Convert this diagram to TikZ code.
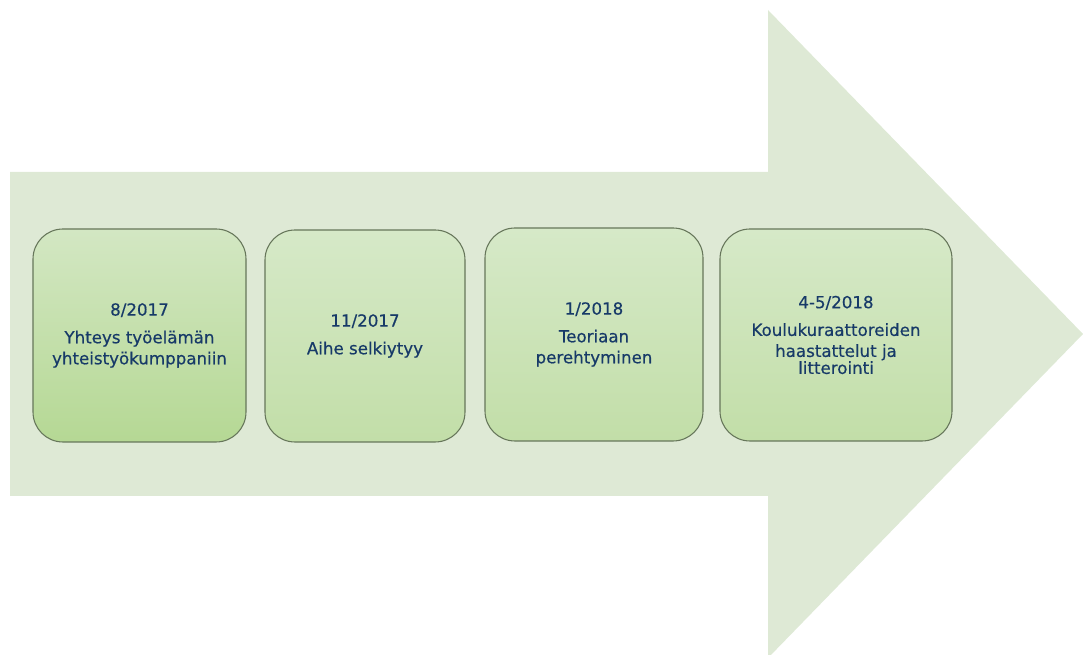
\documentclass[tikz,border=0pt]{standalone}
\usepackage{fontspec}
\setmainfont[FakeBold=0.4]{DejaVu Sans}
\definecolor{arrowfill}{HTML}{DEE9D5}
\definecolor{boxtopA}{HTML}{D3E7C3}
\definecolor{boxbotA}{HTML}{B5D894}
\definecolor{boxtop}{HTML}{D6E9C8}
\definecolor{boxbot}{HTML}{C2DEA8}
\definecolor{boxline}{HTML}{66765A}
\definecolor{txt}{HTML}{173A68}
\tikzset{
  stagebox/.style={rectangle, rounded corners=22.5pt, draw=boxline, line width=0.8pt,
    top color=boxtop, bottom color=boxbot, text=txt, align=center,
    font=\fontsize{12.5pt}{15.75pt}\selectfont, inner sep=0pt},
}
\begin{document}
\begin{tikzpicture}[x=0.75pt,y=-0.75pt]
\useasboundingbox (0,0) rectangle (1083,655);
\begin{scope}
\clip (0,0) rectangle (1083,655);
\fill[arrowfill] (10,172) -- (768,172) -- (768,10) -- (1083,334) -- (768,658) -- (768,496) -- (10,496) -- cycle;
\end{scope}
\node[stagebox, top color=boxtopA, bottom color=boxbotA, minimum width=213*0.75pt, minimum height=213*0.75pt] (b1) at (139.5,335.5)
  {8/2017\\[5pt]Yhteys työelämän\\yhteistyökumppaniin};
\node[stagebox, minimum width=200*0.75pt, minimum height=212*0.75pt] (b2) at (365,336)
  {11/2017\\[5pt]Aihe selkiytyy};
\node[stagebox, minimum width=218*0.75pt, minimum height=213*0.75pt] (b3) at (594,334.5)
  {1/2018\\[5pt]Teoriaan\\perehtyminen};
\node[stagebox, minimum width=232*0.75pt, minimum height=212*0.75pt] (b4) at (836,335)
  {4-5/2018\\[5pt]Koulukuraattoreiden\\haastattelut ja\\[-3pt]litterointi};
\end{tikzpicture}
\end{document}
